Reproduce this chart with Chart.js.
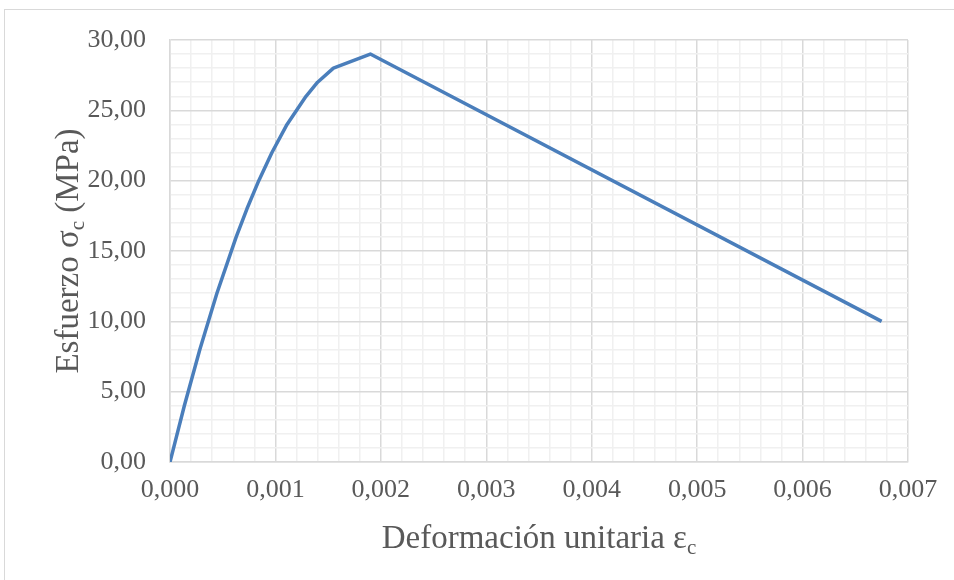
<!DOCTYPE html>
<html>
<head>
<meta charset="utf-8">
<script src="https://cdn.jsdelivr.net/npm/chart.js@4.4.1/dist/chart.umd.min.js"></script>
<style>
  html, body { margin: 0; padding: 0; background: #ffffff; }
  #wrap { width: 954px; height: 580px; position: relative; }
</style>
</head>
<body>
<div id="wrap"><canvas id="c" width="954" height="580"></canvas></div>
<script>
// Data
const strain = [0, 0.000136, 0.000283, 0.000445, 0.000628, 0.00073, 0.000842, 0.000967, 0.00111, 0.00129, 0.0014, 0.00155, 0.0019, 0.00675];
const stress = [0, 4, 8, 12, 16, 18, 20, 22, 24, 26, 27, 28, 29, 10];
const xTickLabels = ['0,000', '0,001', '0,002', '0,003', '0,004', '0,005', '0,006', '0,007'];
const yTickLabels = ['0,00', '5,00', '10,00', '15,00', '20,00', '25,00', '30,00'];
const xTitle = ['Deformación unitaria ε', 'c'];
const yTitle = ['Esfuerzo σ', 'c', ' (MPa)'];

const FONT = '"Liberation Serif", "Times New Roman", serif';
const TEXT_COLOR = '#595959';
const MAJOR = '#d9d9d9';
const MINOR = '#f0f0f0';

const points = strain.map((x, i) => ({ x: x, y: stress[i] }));

const framePlugin = {
  id: 'frame',
  beforeDraw(chart) {
    const ctx = chart.ctx;
    ctx.save();
    ctx.fillStyle = '#ffffff';
    ctx.fillRect(0, 0, chart.width, chart.height);
    ctx.strokeStyle = '#d9d9d9';
    ctx.lineWidth = 1;
    ctx.strokeRect(4.5, 9.5, 1200, 1200);
    ctx.restore();
  },
  afterDraw(chart) {
    const ctx = chart.ctx;
    const a = chart.chartArea;
    ctx.save();
    ctx.fillStyle = TEXT_COLOR;
    ctx.textBaseline = 'alphabetic';
    const big = '33px ' + FONT, small = '21px ' + FONT;
    // X title with subscript
    ctx.font = big;
    const w1 = ctx.measureText(xTitle[0]).width;
    ctx.font = small;
    const w2 = ctx.measureText(xTitle[1]).width;
    const x0 = (a.left + a.right) / 2 - (w1 + w2) / 2;
    const yb = 548;
    ctx.textAlign = 'left';
    ctx.font = big;
    ctx.fillText(xTitle[0], x0, yb);
    ctx.font = small;
    ctx.fillText(xTitle[1], x0 + w1, yb + 6);
    // Y title rotated
    ctx.translate(78, (a.top + a.bottom) / 2);
    ctx.rotate(-Math.PI / 2);
    ctx.font = big;
    const t1 = ctx.measureText(yTitle[0]).width;
    ctx.font = small;
    const t2 = ctx.measureText(yTitle[1]).width;
    ctx.font = big;
    const t3 = ctx.measureText(yTitle[2]).width;
    const s = -(t1 + t2 + t3) / 2;
    ctx.font = big; ctx.fillText(yTitle[0], s, 0);
    ctx.font = small; ctx.fillText(yTitle[1], s + t1, 6);
    ctx.font = big; ctx.fillText(yTitle[2], s + t1 + t2, 0);
    ctx.restore();
  }
};

new Chart(document.getElementById('c'), {
  type: 'scatter',
  data: {
    datasets: [{
      data: points,
      showLine: true,
      borderColor: '#4a7ebb',
      borderWidth: 3.5,
      borderJoinStyle: 'round',
      pointRadius: 0,
      pointHoverRadius: 0,
      tension: 0,
      fill: false
    }]
  },
  options: {
    responsive: false,
    animation: false,
    events: [],
    layout: { padding: { left: 0, top: 40, right: 46, bottom: 30 } },
    plugins: { legend: { display: false }, tooltip: { enabled: false } },
    scales: {
      x: {
        type: 'linear',
        min: 0, max: 0.007,
        afterFit(scale) { scale.height = 88; },
        afterBuildTicks(scale) {
          const t = [];
          for (let i = 0; i <= 35; i++) t.push({ value: i * 0.0002 });
          scale.ticks = t;
        },
        ticks: {
          autoSkip: false,
          maxRotation: 0,
          padding: 13,
          color: TEXT_COLOR,
          font: { family: FONT, size: 26 },
          callback(v, i) { return i % 5 === 0 ? xTickLabels[i / 5] : ''; }
        },
        grid: {
          drawTicks: false,
          color(ctx) { return ctx.index % 5 === 0 ? MAJOR : MINOR; },
          lineWidth: 1.5
        },
        border: { display: true, color: MAJOR, width: 1.5 }
      },
      y: {
        type: 'linear',
        min: 0, max: 30,
        afterFit(scale) { scale.width = 170; },
        afterBuildTicks(scale) {
          const t = [];
          for (let i = 0; i <= 30; i++) t.push({ value: i });
          scale.ticks = t;
        },
        ticks: {
          autoSkip: false,
          padding: 24,
          color: TEXT_COLOR,
          font: { family: FONT, size: 26 },
          callback(v, i) { return i % 5 === 0 ? yTickLabels[i / 5] : ''; }
        },
        grid: {
          drawTicks: false,
          color(ctx) { return ctx.index % 5 === 0 ? MAJOR : MINOR; },
          lineWidth: 1.5
        },
        border: { display: true, color: MAJOR, width: 1.5 }
      }
    }
  },
  plugins: [framePlugin]
});
</script>
</body>
</html>
